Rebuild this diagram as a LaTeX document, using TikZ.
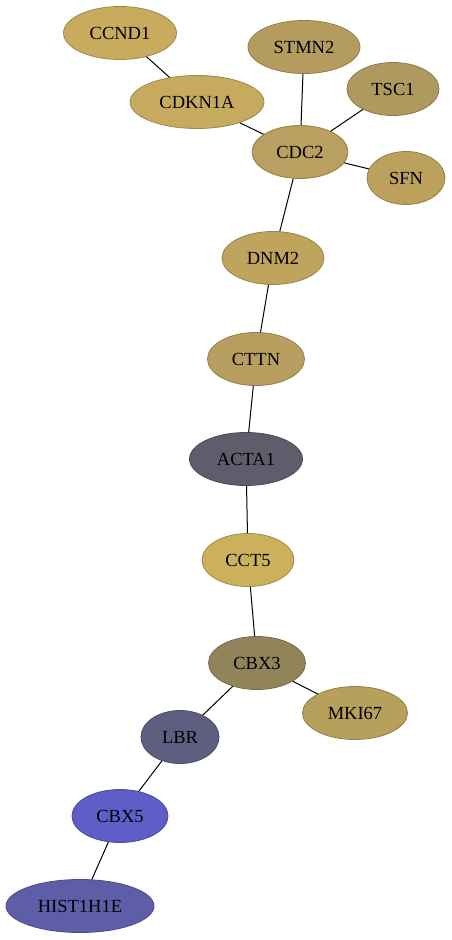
\documentclass[tikz,border=0pt]{standalone}
\usepackage{fontspec}
\setmainfont{Liberation Serif}
\usetikzlibrary{shapes.geometric}
\definecolor{cCCND}{HTML}{C8AB5C}
\definecolor{cCDKN}{HTML}{C6AA5E}
\definecolor{cSTMN}{HTML}{B39C5E}
\definecolor{cTSC}{HTML}{AE995E}
\definecolor{cCDC}{HTML}{B9A060}
\definecolor{cSFN}{HTML}{BCA15C}
\definecolor{cDNM}{HTML}{BEA45C}
\definecolor{cCTTN}{HTML}{B89F5F}
\definecolor{cACTA}{HTML}{5E5D6C}
\definecolor{cCCT}{HTML}{CDB05B}
\definecolor{cCBXt}{HTML}{91845B}
\definecolor{cMKI}{HTML}{B6A05C}
\definecolor{cLBR}{HTML}{5E5E80}
\definecolor{cCBXf}{HTML}{5E5EC8}
\definecolor{cHIST}{HTML}{5E5EA8}
\tikzset{
  gene/.style={ellipse, draw=#1!80!black, fill=#1, line width=0.8pt, inner sep=0pt,
    minimum height=53pt, font=\fontsize{18.5}{20}\selectfont, text=black},
  link/.style={draw=black, line width=1pt}
}
\begin{document}
\begin{tikzpicture}[x=1pt,y=-1pt]
\useasboundingbox (0,0) rectangle (452,940);
\node[gene=cCCND, minimum width=113pt] (CCND1) at (120,33) {CCND1};
\node[gene=cCDKN, minimum width=134pt] (CDKN1A) at (197,102) {CDKN1A};
\node[gene=cSTMN, minimum width=112pt] (STMN2) at (304,47) {STMN2};
\node[gene=cTSC, minimum width=92pt] (TSC1) at (393,89) {TSC1};
\node[gene=cCDC, minimum width=96pt] (CDC2) at (300,152) {CDC2};
\node[gene=cSFN, minimum width=78pt] (SFN) at (406,178) {SFN};
\node[gene=cDNM, minimum width=102pt] (DNM2) at (273,258) {DNM2};
\node[gene=cCTTN, minimum width=97pt] (CTTN) at (256,359) {CTTN};
\node[gene=cACTA, minimum width=113pt] (ACTA1) at (246,459) {ACTA1};
\node[gene=cCCT, minimum width=92pt] (CCT5) at (248,560) {CCT5};
\node[gene=cCBXt, minimum width=97pt] (CBX3) at (257,663) {CBX3};
\node[gene=cMKI, minimum width=105pt] (MKI67) at (355,713) {MKI67};
\node[gene=cLBR, minimum width=78pt] (LBR) at (180,737) {LBR};
\node[gene=cCBXf, minimum width=96pt] (CBX5) at (120,816) {CBX5};
\node[gene=cHIST, minimum width=148pt] (HIST1H1E) at (80,906) {HIST1H1E};
\draw[link] (CCND1) -- (CDKN1A);
\draw[link] (CDKN1A) -- (CDC2);
\draw[link] (STMN2) -- (CDC2);
\draw[link] (TSC1) -- (CDC2);
\draw[link] (SFN) -- (CDC2);
\draw[link] (CDC2) -- (DNM2);
\draw[link] (DNM2) -- (CTTN);
\draw[link] (CTTN) -- (ACTA1);
\draw[link] (ACTA1) -- (CCT5);
\draw[link] (CCT5) -- (CBX3);
\draw[link] (CBX3) -- (MKI67);
\draw[link] (CBX3) -- (LBR);
\draw[link] (LBR) -- (CBX5);
\draw[link] (CBX5) -- (HIST1H1E);
\end{tikzpicture}
\end{document}
